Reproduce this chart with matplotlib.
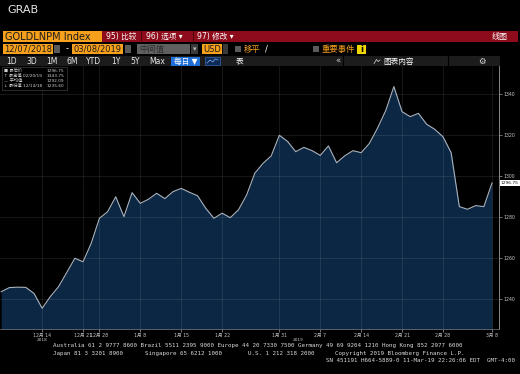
import numpy as np
import matplotlib
matplotlib.use('Agg')
import matplotlib.pyplot as plt
from matplotlib.patches import Rectangle
from matplotlib.transforms import blended_transform_factory

plt.rcParams['font.family'] = ['DejaVu Sans', 'Noto Sans CJK SC']

# GOLDLNPM Index, daily fixes 12/07/2018 - 03/08/2019
prices = [1243.7, 1245.7, 1245.9, 1245.8, 1242.9, 1235.6, 1241.3, 1246.1, 1253.0, 1260.0,
          1258.3, 1267.3, 1279.5, 1282.7, 1290.0, 1280.3, 1292.0, 1286.8, 1288.8, 1291.7,
          1289.1, 1292.5, 1294.1, 1292.2, 1290.5, 1284.4, 1279.5, 1282.0, 1279.8, 1283.6,
          1290.9, 1301.5, 1306.3, 1309.9, 1320.0, 1317.0, 1312.0, 1314.1, 1312.5, 1310.2,
          1314.8, 1306.6, 1310.0, 1312.5, 1311.5, 1316.0, 1323.5, 1332.0, 1343.75, 1331.5,
          1329.1, 1330.7, 1325.4, 1322.9, 1319.3, 1311.5, 1285.2, 1283.9, 1285.7, 1285.2,
          1296.75]

tick_idx = [5, 10, 12, 17, 22, 27, 34, 39, 44, 49, 54, 60]
tick_labels = ['12月 14', '12月 21', '12月 28', '1月 8', '1月 15', '1月 22',
               '1月 31', '2月 7', '2月 14', '2月 21', '2月 28', '3月 8']
year_labels = [(5, '2018'), (36.3, '2019')]
ytick_vals = [1240, 1260, 1280, 1300, 1320, 1340]

ORANGE = '#f7a01c'
NAVY = '#0b2744'

fig = plt.figure(figsize=(5.2, 3.74), dpi=100, facecolor='black')

# ---- main chart
ax = fig.add_axes([0, 45 / 374, 499 / 520, 263 / 374])
ax.set_facecolor('black')
x = np.arange(len(prices))
ax.fill_between(x, prices, 1200, color=NAVY, lw=0, zorder=1)
ax.plot(x, prices, color='#a9b4c0', lw=0.8, zorder=3)
ax.set_xlim(-0.15, 60.85)
ax.set_ylim(1225.5, 1353.8)

ax.set_axisbelow('line')
ax.set_yticks(ytick_vals)
ax.set_yticks(np.arange(1230, 1355, 5), minor=True)
ax.yaxis.tick_right()
ax.set_xticks(tick_idx)
ax.set_xticklabels(tick_labels)
ax.set_xticks(x, minor=True)
ax.grid(True, which='major', color='white', alpha=0.13, lw=0.5)
ax.tick_params(axis='both', which='major', labelsize=3.3, colors='#c8c8c8',
               length=2, width=0.4, pad=1.2)
ax.tick_params(axis='both', which='minor', length=1, width=0.3, colors='#888888')
for s in ['left', 'top']:
    ax.spines[s].set_visible(False)
ax.spines['right'].set_color('#9a9a9a')
ax.spines['right'].set_linewidth(0.6)
ax.spines['bottom'].set_color('#777777')
ax.spines['bottom'].set_linewidth(0.5)
ax.spines['bottom'].set_linestyle((0, (2, 1)))

trans = blended_transform_factory(ax.transData, ax.transAxes)
for xi, yr in year_labels:
    ax.text(xi, -0.036, yr, transform=trans, fontsize=3.1, color='#c8c8c8',
            ha='center', va='top', clip_on=False)

ax.text(61.05, prices[-1], f'{prices[-1]:.2f}', fontsize=3.2, color='#111111',
        ha='left', va='center', clip_on=False,
        bbox=dict(facecolor='white', edgecolor='none', pad=0.8))

# ---- terminal chrome, drawn in pixel coords
ui = fig.add_axes([0, 0, 1, 1], zorder=5)
ui.set_xlim(0, 520)
ui.set_ylim(374, 0)
ui.axis('off')
ui.patch.set_visible(False)


def box(x0, y0, x1, y1, color, **kw):
    ui.add_patch(Rectangle((x0, y0), x1 - x0, y1 - y0, facecolor=color,
                           edgecolor=kw.pop('ec', 'none'), lw=kw.pop('lw', 0.5), **kw))


def txt(x0, y0, s, size, color, **kw):
    ui.text(x0, y0, s, fontsize=size, color=color, va='center', **kw)


txt(7, 9.5, 'GRAB', 8, '#e6e6e6')

# row 1
box(3, 31, 102, 42, ORANGE)
txt(5, 36.7, 'GOLDLNPM Index', 7, '#1a1a1a')
box(102, 31, 518, 42, '#8d0b1b')
for sx in [141, 193]:
    ui.plot([sx, sx], [31, 42], color='#4a0508', lw=0.7)
txt(106, 36.7, '95) 比较', 5.5, 'white')
txt(146, 36.7, '96) 选项 ▾', 5.5, 'white')
txt(197, 36.7, '97) 修改 ▾', 5.5, 'white')
txt(508, 36.7, '线图', 5.8, 'white', ha='right')

# row 2
box(3, 44, 53, 54, ORANGE)
txt(4.5, 49.2, '12/07/2018', 6, '#1a1a1a')
box(54, 45, 60, 53, '#5a5a5a')
txt(66, 49, '-', 6, 'white')
box(72, 44, 123, 54, ORANGE)
txt(73.5, 49.2, '03/08/2019', 6, '#1a1a1a')
box(125, 45, 131, 53, '#5a5a5a')
box(137, 44, 190, 54, '#606060')
txt(139, 49.2, '中间值', 6, '#2e2e2e')
box(191, 44, 198, 54, '#3a3a3a')
txt(194.5, 49.2, '▾', 5, '#bbbbbb', ha='center')
box(202, 44, 222, 54, ORANGE)
txt(203.5, 49.2, 'USD', 6, '#1a1a1a')
box(223, 44, 228, 54, '#3a3a3a')
box(235, 46, 241, 52, '#5a5a5a')
txt(244, 49.2, '移平', 6, ORANGE)
txt(265, 49.2, '/', 6, 'white')
box(313, 46, 319, 52, '#5a5a5a')
txt(322, 49.2, '重要事件', 6, ORANGE)
box(357, 44.5, 366, 53.5, '#f2d600')
txt(361.5, 49.2, 'i', 6, 'black', ha='center', weight='bold')

# row 3
box(0, 56, 500, 66, '#1c1c1c')
for lx, lab in [(11.5, '1D'), (31.5, '3D'), (51.5, '1M'), (72, '6M'), (94, 'YTD'),
                (116, '1Y'), (135, '5Y'), (157, 'Max')]:
    txt(lx, 61, lab, 5.5, '#e8e8e8', ha='center')
box(171, 56.5, 200, 65.5, '#1f6fd6')
txt(185.5, 61, '每日 ▼', 5.5, 'white', ha='center')
box(205, 57, 220, 65, '#0f2a55', ec='#3a7bd5', lw=0.4)
ui.plot([207, 210, 213, 215, 218], [63, 60, 62, 59, 60], color='#7fb0ff', lw=0.5)
txt(240, 61, '表', 5.5, 'white', ha='center')
for sx in [343, 448]:
    ui.plot([sx, sx], [56, 66], color='black', lw=0.8)
txt(337.5, 61, '«', 6, '#cccccc', ha='center')
ui.plot([374, 376.5, 378, 380], [63.5, 59.5, 61.5, 60], color='#dddddd', lw=0.5)
txt(383, 61, '图表内容', 5.5, 'white')
txt(482, 61, '⚙', 6, '#dddddd', ha='center')

# stats box in the top-left of the chart
box(2, 67, 67, 90, 'black', ec='#4a4a4a', lw=0.4)
stats = [('■ 最后价', prices[-1]),
         ('↑ 最高值 02/20/19', max(prices)),
         ('— 平均值', float(np.mean(prices))),
         ('↓ 最低值 12/14/18', min(prices))]
for i, (lab, v) in enumerate(stats):
    yy = 70.8 + i * 5
    txt(4, yy, lab, 3.1, '#d0d0d0')
    txt(64, yy, f'{v:.2f}', 3.1, '#d0d0d0', ha='right')

# footer
mono = ['DejaVu Sans Mono']
txt(53, 346, 'Australia 61 2 9777 8600 Brazil 5511 2395 9000 Europe 44 20 7330 7500 '
    'Germany 49 69 9204 1210 Hong Kong 852 2977 6000', 4.25, '#d8d8d8', family=mono)
txt(53, 353.5, 'Japan 81 3 3201 8900', 4.25, '#d8d8d8', family=mono)
txt(145, 353.5, 'Singapore 65 6212 1000', 4.25, '#d8d8d8', family=mono)
txt(248, 353.5, 'U.S. 1 212 318 2000', 4.25, '#d8d8d8', family=mono)
txt(335, 353.5, 'Copyright 2019 Bloomberg Finance L.P.', 4.25, '#d8d8d8', family=mono)
txt(515, 361, 'SN 451191 H664-5889-0 11-Mar-19 22:26:06 EDT  GMT-4:00', 4.25,
    '#d8d8d8', family=mono, ha='right')

fig.savefig('out.png', dpi=100, facecolor='black')
